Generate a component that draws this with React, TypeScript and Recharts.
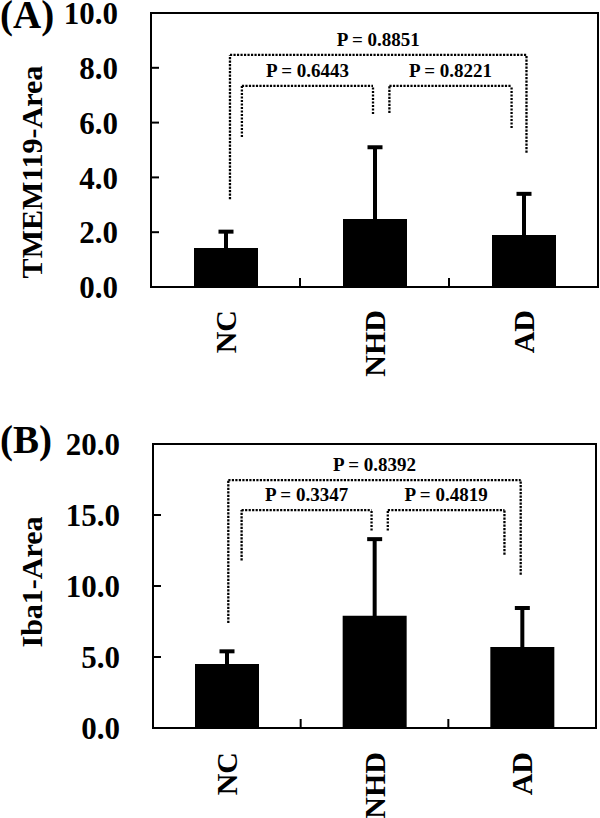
import React from 'react';
import { BarChart, Bar, XAxis, YAxis, ErrorBar, ReferenceLine, ReferenceArea } from 'recharts';

const FONT = "'Liberation Serif', 'Times New Roman', serif";

const categories = ['NC', 'NHD', 'AD'];
const categoryPositions = [0.5, 1.5, 2.5];

const tmemMeans = [1.42, 2.48, 1.9];
const tmemSD = [0.6, 2.62, 1.5];
const tmemTicks = [0, 2, 4, 6, 8, 10];

const ibaMeans = [4.5, 7.9, 5.7];
const ibaSD = [0.9, 5.4, 2.75];
const ibaTicks = [0, 5, 10, 15, 20];

// comparison brackets: x in category units (0..3), y in data units
const tmemBrackets = [
  { x1: 0.53, x2: 2.52, top: 8.47, leftEnd: 3.2, rightEnd: 4.9, p: 'P = 0.8851' },
  { x1: 0.61, x2: 1.49, top: 7.34, leftEnd: 5.47, rightEnd: 6.31, p: 'P = 0.6443' },
  { x1: 1.6, x2: 2.42, top: 7.34, leftEnd: 6.35, rightEnd: 5.8, p: 'P = 0.8221' },
];

const ibaBrackets = [
  { x1: 0.51, x2: 2.49, top: 17.46, leftEnd: 7.4, rightEnd: 10.8, p: 'P = 0.8392' },
  { x1: 0.6, x2: 1.48, top: 15.35, leftEnd: 11.8, rightEnd: 13.9, p: 'P = 0.3347' },
  { x1: 1.59, x2: 2.38, top: 15.35, leftEnd: 13.9, rightEnd: 12.2, p: 'P = 0.4819' },
];

const xTickValues = [0.5, 1, 1.5, 2, 2.5];

type PanelProps = {
  means: number[];
  sds: number[];
  ticks: number[];
  yMax: number;
  brackets: typeof tmemBrackets;
  title: string;
  letter: string;
  height: number;
  top: number;
  marginTop: number;
  marginRight: number;
  yWidth: number;
  xHeight: number;
  labelGap: number;
  letterY: number;
  titleY: number;
};

const YTick = (props: any) => {
  const { x, y, payload } = props;
  return (
    <g>
      <line x1={x} x2={x + 8} y1={y} y2={y} stroke="#000" strokeWidth={2} />
      <text
        x={x - 33}
        y={y}
        dy="0.36em"
        textAnchor="end"
        fontFamily={FONT}
        fontWeight="bold"
        fontSize={31}
        fill="#000"
      >
        {Number(payload.value).toFixed(1)}
      </text>
    </g>
  );
};

const makeXTick = (gap: number) => (props: any) => {
  const { x, y, payload } = props;
  const v = Number(payload.value);
  if (Number.isInteger(v)) {
    return <line x1={x} x2={x} y1={y} y2={y - 9} stroke="#000" strokeWidth={2} />;
  }
  const name = categories[Math.floor(v)];
  return (
    <text
      transform={`translate(${x + 10},${y + gap}) rotate(-90)`}
      textAnchor="end"
      fontFamily={FONT}
      fontWeight="bold"
      fontSize={30}
      fill="#000"
    >
      {name}
    </text>
  );
};

function Panel(p: PanelProps) {
  // lower part of the error bar is hidden inside the black bar (one-sided SD)
  const data = categories.map((c, i) => ({
    name: c,
    pos: categoryPositions[i],
    mean: p.means[i],
    err: [p.means[i] / 2, p.sds[i]],
  }));
  const dot = { stroke: '#000', strokeWidth: 2.3, strokeDasharray: '2.2 1.3' };
  const lines: any[] = [];
  p.brackets.forEach((b, i) => {
    lines.push(
      <ReferenceLine
        key={`l${i}`}
        xAxisId="num"
        segment={[{ x: b.x1, y: b.leftEnd }, { x: b.x1, y: b.top }]}
        {...dot}
      />
    );
    lines.push(
      <ReferenceLine
        key={`h${i}`}
        xAxisId="num"
        segment={[{ x: b.x1, y: b.top }, { x: b.x2, y: b.top }]}
        {...dot}
        label={{
          value: b.p,
          position: 'top',
          offset: 9,
          fill: '#000',
          fontSize: 19,
          fontWeight: 'bold',
          fontFamily: FONT,
        }}
      />
    );
    lines.push(
      <ReferenceLine
        key={`r${i}`}
        xAxisId="num"
        segment={[{ x: b.x2, y: b.rightEnd }, { x: b.x2, y: b.top }]}
        {...dot}
      />
    );
  });

  return (
    <div style={{ position: 'absolute', left: 0, top: p.top }}>
      <BarChart
        width={600}
        height={p.height}
        data={data}
        margin={{ top: p.marginTop, right: p.marginRight, left: 0, bottom: 0 }}
        barCategoryGap={0}
      >
        <XAxis
          xAxisId="num"
          dataKey="pos"
          type="number"
          domain={[0, 3]}
          ticks={xTickValues}
          interval={0}
          allowDataOverflow
          height={p.xHeight}
          tickLine={false}
          tickSize={0}
          tickMargin={0}
          axisLine={{ stroke: '#000', strokeWidth: 2 }}
          tick={makeXTick(p.labelGap)}
        />
        <XAxis xAxisId="cat" dataKey="name" type="category" hide height={0} />
        <YAxis
          type="number"
          domain={[0, p.yMax]}
          ticks={p.ticks}
          interval={0}
          allowDataOverflow
          width={p.yWidth}
          tickLine={false}
          tickSize={0}
          tickMargin={0}
          axisLine={{ stroke: '#000', strokeWidth: 2 }}
          tick={<YTick />}
          label={{
            content: () => (
              <g>
                <text
                  x={0}
                  y={p.letterY}
                  fontFamily={FONT}
                  fontWeight="bold"
                  fontSize={39}
                  fill="#000"
                >
                  {p.letter}
                </text>
                <text
                  transform={`translate(42,${p.titleY}) rotate(-90)`}
                  textAnchor="middle"
                  fontFamily={FONT}
                  fontWeight="bold"
                  fontSize={30}
                  fill="#000"
                >
                  {p.title}
                </text>
              </g>
            ),
          }}
        />
        <ReferenceArea
          xAxisId="num"
          x1={0}
          x2={3}
          y1={0}
          y2={p.yMax}
          fill="none"
          fillOpacity={0}
          stroke="#000"
          strokeWidth={2}
        />
        <Bar xAxisId="cat" dataKey="mean" fill="#000" barSize={64} isAnimationActive={false}>
          <ErrorBar dataKey="err" width={7.5} strokeWidth={4} stroke="#000" direction="y" />
        </Bar>
        {lines}
      </BarChart>
    </div>
  );
}

export default function App() {
  return (
    <div style={{ position: 'absolute', left: 0, top: 0, width: 600, height: 818, background: '#fff', overflow: 'hidden' }}>
      <Panel
        means={tmemMeans}
        sds={tmemSD}
        ticks={tmemTicks}
        yMax={10}
        brackets={tmemBrackets}
        title="TMEM119-Area"
        letter="(A)"
        height={410}
        top={0}
        marginTop={13}
        marginRight={2}
        yWidth={151}
        xHeight={123}
        labelGap={23}
        letterY={28}
        titleY={172}
      />
      <Panel
        means={ibaMeans}
        sds={ibaSD}
        ticks={ibaTicks}
        yMax={20}
        brackets={ibaBrackets}
        title="Iba1-Area"
        letter="(B)"
        height={408}
        top={410}
        marginTop={34}
        marginRight={4}
        yWidth={153}
        xHeight={90}
        labelGap={24}
        letterY={43}
        titleY={172}
      />
    </div>
  );
}
